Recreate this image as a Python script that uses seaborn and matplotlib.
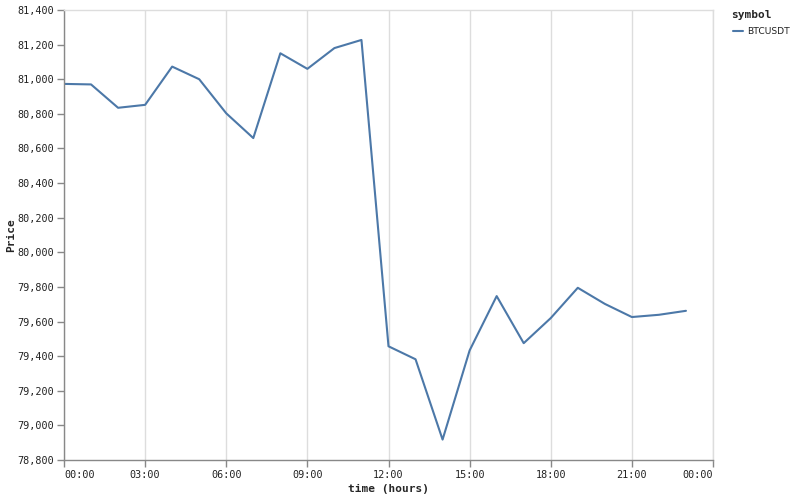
import pandas as pd
import matplotlib
matplotlib.use("Agg")
import matplotlib.pyplot as plt
import matplotlib.dates as mdates
import matplotlib.ticker as mticker
import seaborn as sns

# ==========================================
# DADOS
# ==========================================
hours = list(range(24))
prices = [80973, 80970, 80835, 80852, 81073, 81000, 80803, 80660,
          81150, 81060, 81180, 81227, 79457, 79382, 78918, 79433,
          79747, 79475, 79620, 79795, 79702, 79626, 79639, 79662]
symbol = "BTCUSDT"

BASE_DAY = pd.Timestamp("2025-04-10")

df = pd.DataFrame({
    "time": [BASE_DAY + pd.Timedelta(hours=h) for h in hours],
    "Price": prices,
    "symbol": symbol,
})

# ==========================================
# PLOT
# ==========================================
sns.set_theme(style="white")
plt.rcParams["font.family"] = ["DejaVu Sans Mono"]

fig = plt.figure(figsize=(7.94, 4.97), dpi=100)
ax = fig.add_axes([64 / 794, 37 / 497, 649 / 794, 450 / 497])

sns.lineplot(data=df, x="time", y="Price", hue="symbol", palette=["#4c78a8"],
             linewidth=1.5, ax=ax, legend=False)

ax.set_xlim(BASE_DAY, BASE_DAY + pd.Timedelta(hours=24))
ax.set_ylim(78800, 81400)
ax.xaxis.set_major_locator(mdates.HourLocator(byhour=range(0, 24, 3)))
ax.xaxis.set_major_formatter(mdates.DateFormatter("%H:%M"))
ax.yaxis.set_major_locator(mticker.MultipleLocator(200))
ax.yaxis.set_major_formatter(mticker.FuncFormatter(lambda v, p: f"{int(v):,}"))

ax.grid(axis="x", color="#dddddd", linewidth=1)
ax.grid(axis="y", visible=False)

for side in ["top", "right"]:
    ax.spines[side].set_color("#dddddd")
    ax.spines[side].set_linewidth(1)
for side in ["left", "bottom"]:
    ax.spines[side].set_color("#888888")
    ax.spines[side].set_linewidth(1)

ax.tick_params(axis="both", direction="out", length=5, width=1, color="#888888",
               labelsize=7.3, labelcolor="#222222", pad=2, bottom=True, left=True)

# rótulos "flush" nas pontas do eixo x
fig.canvas.draw()
xlabels = ax.get_xticklabels()
xlabels[0].set_horizontalalignment("left")
xlabels[-1].set_horizontalalignment("right")

ax.set_xlabel("time (hours)", fontsize=8, fontweight="bold", labelpad=3)
ax.set_ylabel("Price", fontsize=8, fontweight="bold")
ax.yaxis.set_label_coords(-(64 - 16) / 649, 0.5)

# legenda estilo vega
fig.text(731 / 794, 1 - 15 / 497, "symbol", fontsize=8, fontweight="bold",
         ha="left", va="center")
fig.add_artist(plt.Line2D([733 / 794, 743 / 794], [1 - 31 / 497, 1 - 31 / 497],
                          color="#4c78a8", linewidth=1.5, transform=fig.transFigure))
fig.text(747 / 794, 1 - 31 / 497, symbol, fontsize=6.6, ha="left", va="center",
         family="DejaVu Sans", color="#222222")

fig.savefig("out.png", dpi=100)
